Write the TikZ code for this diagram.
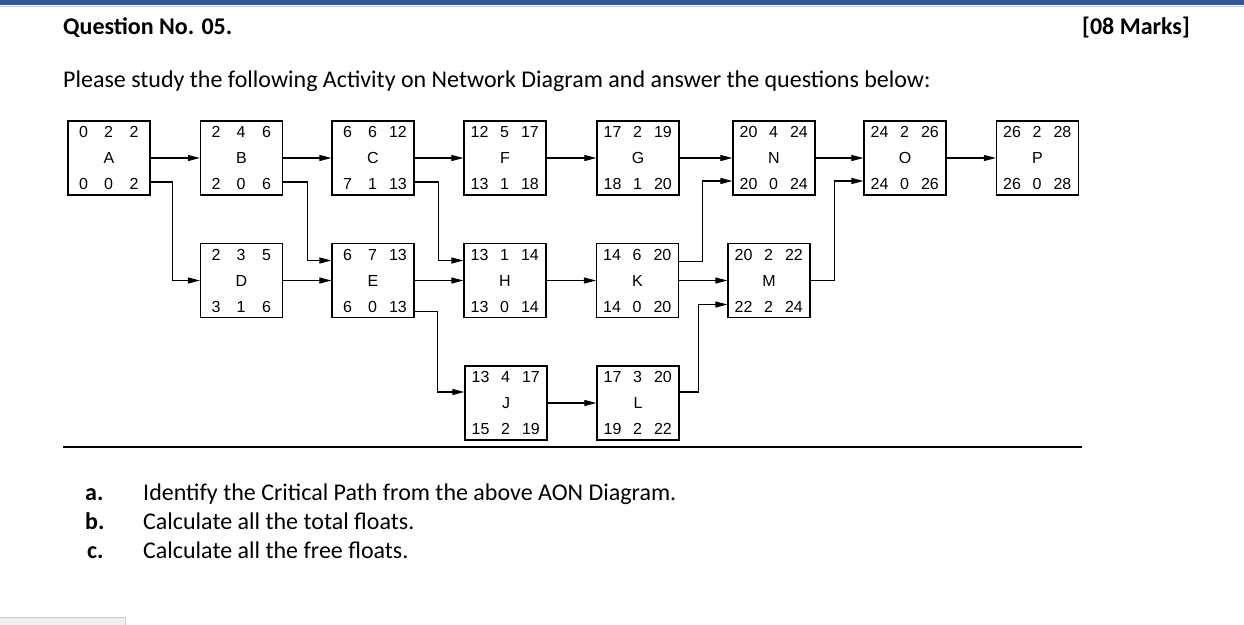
\documentclass[tikz,border=0pt]{standalone}
\usepackage{fontspec}
\setmainfont{Carlito}
\newfontfamily\boxfont{Liberation Sans}
\usetikzlibrary{arrows.meta,calc}
\definecolor{barblue}{RGB}{47,85,151}

\tikzset{
  act/.style={draw, line width=1.2pt, minimum width=82pt, minimum height=74pt,
    inner sep=0pt, align=center, font=\boxfont\fontsize{16}{26}\selectfont},
  link/.style={-{Triangle[length=12pt,width=6pt]}, line width=1.1pt},
  txt/.style={inner sep=0pt, anchor=base west, font=\fontsize{24}{28}\selectfont},
  bold/.style={font=\bfseries\fontsize{24}{28}\selectfont},
}
\newcommand{\trio}[3]{\makebox[25pt]{#1}\makebox[25pt]{#2}\makebox[26pt]{#3}}

\begin{document}
\begin{tikzpicture}[x=1pt, y=-1pt]
    \useasboundingbox (0,0) rectangle (1244,624);

    % page header
    \fill[barblue] (0,0) rectangle (1244,4.5);
    \draw[barblue!30, line width=1pt] (0,6) -- (1244,6);
    \node[txt, bold] (qno) at (63,34) {Question No. 05.};
    \node[txt, bold, anchor=base east] (marks) at (1190,34) {[08 Marks]};
    \node[txt] (intro) at (63,87) {Please study the following Activity on Network Diagram and answer the questions below:};

    % activities, row 1
    \node[act] (A) at (109,158)   {\trio{0}{2}{2}\\A\\\trio{0}{0}{2}};
    \node[act] (B) at (241.5,158) {\trio{2}{4}{6}\\B\\\trio{2}{0}{6}};
    \node[act] (C) at (373,158)   {\trio{6}{6}{12}\\C\\\trio{7}{1}{13}};
    \node[act] (F) at (505,158)   {\trio{12}{5}{17}\\F\\\trio{13}{1}{18}};
    \node[act] (G) at (638,158)   {\trio{17}{2}{19}\\G\\\trio{18}{1}{20}};
    \node[act] (N) at (774,158)   {\trio{20}{4}{24}\\N\\\trio{20}{0}{24}};
    \node[act] (O) at (905,158)   {\trio{24}{2}{26}\\O\\\trio{24}{0}{26}};
    \node[act] (P) at (1037.5,158) {\trio{26}{2}{28}\\P\\\trio{26}{0}{28}};

    % activities, row 2
    \node[act] (D) at (241.5,280.5) {\trio{2}{3}{5}\\D\\\trio{3}{1}{6}};
    \node[act] (E) at (373,280.5)   {\trio{6}{7}{13}\\E\\\trio{6}{0}{13}};
    \node[act] (H) at (505,280.5)   {\trio{13}{1}{14}\\H\\\trio{13}{0}{14}};
    \node[act] (K) at (637.5,280.5) {\trio{14}{6}{20}\\K\\\trio{14}{0}{20}};
    \node[act] (M) at (769,280.5)   {\trio{20}{2}{22}\\M\\\trio{22}{2}{24}};

    % activities, row 3
    \node[act] (J) at (506,403) {\trio{13}{4}{17}\\J\\\trio{15}{2}{19}};
    \node[act] (L) at (638,403) {\trio{17}{3}{20}\\L\\\trio{19}{2}{22}};

    % straight links
    \draw[link] (A) -- (B);
    \draw[link] (B) -- (C);
    \draw[link] (C) -- (F);
    \draw[link] (F) -- (G);
    \draw[link] (G) -- (N);
    \draw[link] (N) -- (O);
    \draw[link] (O) -- (P);
    \draw[link] (D) -- (E);
    \draw[link] (E) -- (H);
    \draw[link] (H) -- (K);
    \draw[link] (K) -- (M);
    \draw[link] (J) -- (L);

    % elbow links
    \draw[link] ([yshift=-24pt]A.east) -- ++(22,0) |- (D.west);
    \draw[link] ([yshift=-24pt]B.east) -- ++(24,0) |- ([yshift=20pt]E.west);
    \draw[link] ([yshift=-24pt]C.east) -- ++(24,0) |- ([yshift=20pt]H.west);
    \draw[link] ([yshift=-31pt]E.east) -- ++(23,0) |- ([yshift=11pt]J.west);
    \draw[link] ([yshift=19pt]K.east) -- ++(23,0) |- ([yshift=-23pt]N.west);
    \draw[link] ([yshift=11pt]L.east) -- ++(19,0) |- ([yshift=-24pt]M.west);
    \draw[link] (M.east) -- ++(24,0) |- ([yshift=-23pt]O.west);

    % rule under the diagram
    \draw[line width=2pt] (63,446.5) -- (1082,446.5);

    % questions
    \node[txt, bold] (qa) at (85,500) {a.};
    \node[txt] (ta) at (143,500) {Identify the Critical Path from the above AON Diagram.};
    \node[txt, bold] (qb) at (85,529) {b.};
    \node[txt] (tb) at (143,529) {Calculate all the total floats.};
    \node[txt, bold] (qc) at (87,558) {c.};
    \node[txt] (tc) at (143,558) {Calculate all the free floats.};

    % grey tab, bottom left
    \filldraw[fill=gray!12, draw=gray!40] (-1,617) rectangle (125,625);
\end{tikzpicture}
\end{document}
